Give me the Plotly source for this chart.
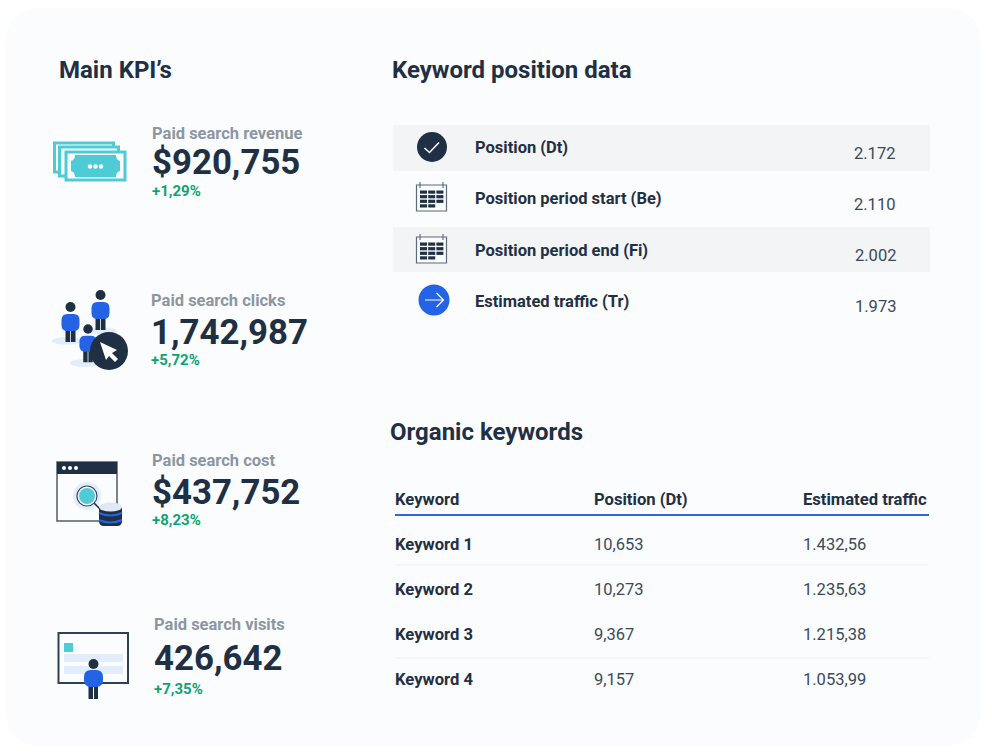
import plotly.graph_objects as go

SECTION_TITLES = ["Main KPI’s", "Keyword position data", "Organic keywords"]
KPI_LABELS = ["Paid search revenue", "Paid search clicks", "Paid search cost", "Paid search visits"]
KPI_VALUES = ["$920,755", "1,742,987", "$437,752", "426,642"]
KPI_DELTAS = ["+1,29%", "+5,72%", "+8,23%", "+7,35%"]
POSITION_LABELS = ["Position (Dt)", "Position period start (Be)", "Position period end (Fi)", "Estimated traffic (Tr)"]
POSITION_VALUES = ["2.172", "2.110", "2.002", "1.973"]
TABLE_HEADERS = ["Keyword", "Position (Dt)", "Estimated traffic"]
KEYWORDS = ["Keyword 1", "Keyword 2", "Keyword 3", "Keyword 4"]
KEYWORD_POSITIONS = ["10,653", "10,273", "9,367", "9,157"]
KEYWORD_TRAFFIC = ["1.432,56", "1.235,63", "1.215,38", "1.053,99"]

DARK = "#1f3044"
GRAY = "#8c96a3"
GREEN = "#0fa372"
TEAL = "#4fcbd8"
BLUE = "#2563e6"
PALE = "#e2edfb"
CARD = "#fbfcfe"
FONT = "Roboto"

shapes, ann = [], []


def rect(x0, y0, x1, y1, fill="rgba(0,0,0,0)", line=None, lw=0):
    shapes.append(dict(type="rect", x0=x0, y0=y0, x1=x1, y1=y1, fillcolor=fill,
                       line=dict(color=line or "rgba(0,0,0,0)", width=lw)))


def oval(cx, cy, rx, ry=None, fill="rgba(0,0,0,0)", line=None, lw=0):
    ry = rx if ry is None else ry
    shapes.append(dict(type="circle", x0=cx - rx, y0=cy - ry, x1=cx + rx, y1=cy + ry, fillcolor=fill,
                       line=dict(color=line or "rgba(0,0,0,0)", width=lw)))


def path(d, fill="rgba(0,0,0,0)", line=None, lw=0):
    shapes.append(dict(type="path", path=d, fillcolor=fill,
                       line=dict(color=line or "rgba(0,0,0,0)", width=lw)))


def rrect(x0, y0, x1, y1, r, **kw):
    path(f"M{x0+r},{y0} L{x1-r},{y0} Q{x1},{y0} {x1},{y0+r} L{x1},{y1-r} Q{x1},{y1} {x1-r},{y1} "
         f"L{x0+r},{y1} Q{x0},{y1} {x0},{y1-r} L{x0},{y0+r} Q{x0},{y0} {x0+r},{y0} Z", **kw)


def text(x, y, s, size, color, weight=400, anchor="left"):
    ann.append(dict(x=x - 1, y=y, text=s, showarrow=False, xanchor=anchor, yanchor="middle", borderpad=0,
                    font=dict(family=FONT, size=size, color=color, weight=weight)))


def person(cx, head_y, scale=1.0):
    w, s = 9.0 * scale, scale
    rect(cx - 5 * s, head_y + 20 * s, cx - .4, head_y + 35 * s, fill=DARK)
    rect(cx + .4, head_y + 20 * s, cx + 5 * s, head_y + 35 * s, fill=DARK)
    rrect(cx - w, head_y + 7 * s, cx + w, head_y + 24 * s, 6 * s, fill=BLUE)
    oval(cx, head_y, 5 * s, fill=DARK)


def calendar(y):
    rect(416.5, y + 1, 446.5, y + 27, fill=CARD, line="#5b6b7b", lw=1.2)
    for x in (420, 443):
        rect(x - .5, y - 2, x + .5, y + 4, fill="#4a5a6a")
    for r in range(4):
        for c in range(3 if r < 3 else 2):
            rect(420 + c * 8.2, y + 6.5 + r * 4.6, 427 + c * 8.2, y + 9.7 + r * 4.6, fill=DARK)


# card
rrect(5, 8, 981, 746, 38, fill=CARD)

# position table backgrounds
rect(393, 125, 930, 171, fill="#f3f4f6")
rect(393, 227, 930, 272, fill="#f3f4f6")

# money icon
for x0, y0 in ((54.5, 143), (59.5, 147)):
    rect(x0, y0, x0 + 59, y0 + 29, fill=CARD, line=TEAL, lw=3)
rect(66, 152, 125, 180, fill=CARD, line=TEAL, lw=3)
path("M75,155 L116,155 Q116,160 120,161 L120,171 Q116,172 116,177 L75,177 Q75,172 71,171 L71,161 Q75,160 75,155 Z", fill=TEAL)
for x in (90, 95.5, 101):
    oval(x, 166.5, 2.2, fill="white")

# clicks icon
oval(67, 341, 15, 3.8, fill=PALE)
oval(102, 331, 15, 3.5, fill=PALE)
oval(85, 363, 15, 4, fill=PALE)
person(100.5, 295)
person(70.5, 307)
person(88, 329, .95)
oval(109, 351, 19, fill=DARK)
path("M100,342 L117,350 L112,353 L118,359 L115,362 L109,356 L106,360 Z", fill="white")

# cost icon
rect(57, 462, 117, 521, fill=CARD, line="#4d5d6d", lw=1.5)
rect(57, 462, 117, 474, fill=DARK)
for x in (64, 70, 76):
    oval(x, 468, 2, fill="white")
oval(87, 496, 14, fill=PALE)
path("M94,503 L102,511", line=DARK, lw=1.5)
oval(87, 496, 10, fill=CARD, line="#3a4a5a", lw=1.2)
oval(87, 496, 8, fill=TEAL)
rrect(99, 505, 122, 526, 5, fill=DARK)
path("M99,513 Q110.5,518 122,513", line=BLUE, lw=2)
path("M99,520 Q110.5,525 122,520", line=BLUE, lw=2)
oval(110.5, 507, 11.5, 4.5, fill="#dfe8f4")

# visits icon
rect(58.5, 633, 128, 683, fill=CARD, line="#2f4054", lw=2)
rect(64, 643, 73, 652, fill=TEAL)
rect(64, 654, 123, 662, fill=PALE)
rect(64, 666, 123, 674, fill=PALE)
rect(88.5, 686, 93, 699, fill=DARK)
rect(94, 686, 98, 699, fill=DARK)
rrect(84, 670, 103, 687, 7, fill=BLUE)
oval(93.5, 664, 5, fill=DARK)

# position icons
oval(432, 147, 15, fill=DARK)
path("M424.5,148 L429.5,152.5 L439,142.5", line="white", lw=1.5)
calendar(184)
calendar(236)
oval(434, 300, 15.5, fill=BLUE)
path("M425,300 L443,300 M436.5,293 L443.5,300 L436.5,307", line="white", lw=1.2)

# keyword table rules
shapes.append(dict(type="line", x0=395, x1=929, y0=515, y1=515, line=dict(color="#2f68cf", width=2)))
for y in (565, 658):
    shapes.append(dict(type="line", x0=395, x1=929, y0=y, y1=y, line=dict(color="#eef0f3", width=1)))

# titles
text(59, 70, SECTION_TITLES[0], 24, DARK, 700)
text(392, 70, SECTION_TITLES[1], 24, DARK, 700)
text(390, 431.5, SECTION_TITLES[2], 24, DARK, 700)

# KPI blocks
kpi_x = [152, 151, 152, 153.5]
label_y = [133, 300, 460, 624]
value_y = [161.5, 331.5, 491.5, 658]
delta_y = [190.5, 359.5, 519.5, 688.5]
for x, y0, y1, y2, a, b, c in zip(kpi_x, label_y, value_y, delta_y, KPI_LABELS, KPI_VALUES, KPI_DELTAS):
    text(x, y0, a, 16.5, GRAY, 700)
    text(x, y1, b, 34.8, DARK, 700)
    text(x, y2, c, 15, GREEN, 700)

# position rows
pos_y = [147, 198, 250, 301.5]
val_x = [875.5, 875.5, 876.5, 876.5]
val_y = [153, 204, 255, 306]
for y, vx, vy, a, b in zip(pos_y, val_x, val_y, POSITION_LABELS, POSITION_VALUES):
    text(475, y, a, 16.5, DARK, 700)
    text(vx, vy, b, 16.5, "#3a4a5c", 400, "center")

# keyword table
for x, s in zip((395, 594, 803), TABLE_HEADERS):
    text(x, 499, s, 16.6, DARK, 700)
for y, a, b, c in zip((544, 589, 634, 679), KEYWORDS, KEYWORD_POSITIONS, KEYWORD_TRAFFIC):
    text(395, y, a, 16.6, DARK, 700)
    text(594, y, b, 16.5, "#3a4a5c")
    text(803, y, c, 16.5, "#3a4a5c")

fig = go.Figure()
fig.update_layout(width=992, height=753, margin=dict(l=0, r=0, t=0, b=0), paper_bgcolor="white",
                  plot_bgcolor="white", showlegend=False, shapes=shapes, annotations=ann,
                  xaxis=dict(range=[0, 992], visible=False, fixedrange=True),
                  yaxis=dict(range=[753, 0], visible=False, fixedrange=True))
fig.write_html("out.html", post_script="document.body.style.margin='0';",
               config=dict(displayModeBar=False))
